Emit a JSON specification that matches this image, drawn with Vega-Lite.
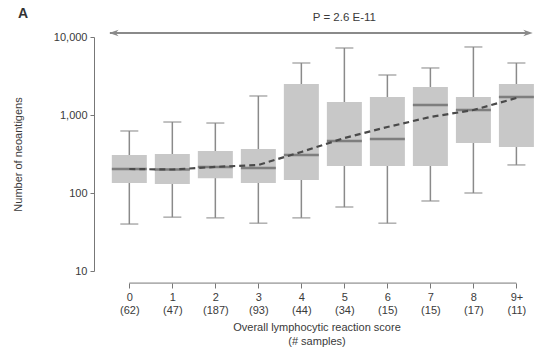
{
  "$schema": "https://vega.github.io/schema/vega-lite/v6.json",
  "width": 445,
  "height": 234,
  "autosize": "none",
  "padding": {"left": 94, "top": 37, "right": 0, "bottom": 91},
  "config": {
    "font": "Liberation Sans",
    "view": {"stroke": null},
    "axis": {"labelFont": "Liberation Sans", "titleFont": "Liberation Sans", "labelFontSize": 11, "titleFontSize": 11, "labelColor": "#3a3a3a", "titleColor": "#3a3a3a", "titleFontWeight": "normal", "grid": false, "domainColor": "#777", "tickColor": "#777"}
  },
  "datasets": {
    "boxes": [
      {"score": 0, "low": 40, "q1": 134, "median": 203, "q3": 307, "high": 624, "trend": 203},
      {"score": 1, "low": 49, "q1": 130, "median": 200, "q3": 316, "high": 813, "trend": 200},
      {"score": 2, "low": 48, "q1": 155, "median": 215, "q3": 345, "high": 789, "trend": 216},
      {"score": 3, "low": 41, "q1": 134, "median": 209, "q3": 367, "high": 1753, "trend": 229},
      {"score": 4, "low": 48, "q1": 147, "median": 307, "q3": 2497, "high": 4642, "trend": 336},
      {"score": 5, "low": 66, "q1": 222, "median": 464, "q3": 1468, "high": 7228, "trend": 507},
      {"score": 6, "low": 41, "q1": 222, "median": 492, "q3": 1700, "high": 3257, "trend": 702},
      {"score": 7, "low": 79, "q1": 222, "median": 1343, "q3": 2285, "high": 4009, "trend": 942},
      {"score": 8, "low": 100, "q1": 437, "median": 1159, "q3": 1700, "high": 7450, "trend": 1159},
      {"score": 9, "low": 229, "q1": 389, "median": 1700, "q3": 2497, "high": 4642, "trend": 1652}
    ],
    "annot": [{"label": "P = 2.6 E-11", "panel": "A"}]
  },
  "layer": [
    {
      "data": {"name": "annot"},
      "mark": {"type": "text", "fontSize": 14, "fontWeight": "bold", "color": "#333", "dx": -76, "dy": -19},
      "encoding": {
        "x": {"datum": -0.705, "type": "quantitative"},
        "y": {"datum": 11250, "type": "quantitative"},
        "text": {"field": "panel"}
      }
    },
    {
      "data": {"name": "annot"},
      "mark": {"type": "rule", "color": "#8a8a8a", "strokeWidth": 2},
      "encoding": {
        "x": {"datum": -0.45, "type": "quantitative"},
        "x2": {"datum": 9.3},
        "y": {"datum": 11250, "type": "quantitative"}
      }
    },
    {
      "data": {"name": "annot"},
      "mark": {"type": "point", "shape": "M -1 0 L 1 -0.7 L 0.4 0 L 1 0.7 Z", "filled": true, "color": "#8a8a8a", "size": 90, "opacity": 1},
      "encoding": {
        "x": {"datum": -0.36, "type": "quantitative"},
        "y": {"datum": 11250, "type": "quantitative"}
      }
    },
    {
      "data": {"name": "annot"},
      "mark": {"type": "point", "shape": "M 1 0 L -1 -0.7 L -0.4 0 L -1 0.7 Z", "filled": true, "color": "#8a8a8a", "size": 90, "opacity": 1},
      "encoding": {
        "x": {"datum": 9.27, "type": "quantitative"},
        "y": {"datum": 11250, "type": "quantitative"}
      }
    },
    {
      "data": {"name": "annot"},
      "mark": {"type": "text", "fontSize": 11.5, "color": "#3a3a3a", "dy": -15},
      "encoding": {
        "x": {"datum": 5, "type": "quantitative"},
        "y": {"datum": 11250, "type": "quantitative"},
        "text": {"field": "label"}
      }
    },
    {
      "data": {"name": "annot"},
      "mark": {"type": "rule", "color": "#777", "strokeWidth": 1},
      "encoding": {
        "x": {"datum": 0, "type": "quantitative"},
        "x2": {"datum": 9},
        "y": {"datum": 7.0, "type": "quantitative"}
      }
    },
    {
      "data": {"name": "boxes"},
      "mark": {"type": "rule", "color": "#8a8a8a", "strokeWidth": 1.5},
      "encoding": {
        "x": {"field": "score", "type": "quantitative"},
        "y": {"field": "low", "type": "quantitative"},
        "y2": {"field": "high"}
      }
    },
    {
      "data": {"name": "boxes"},
      "mark": {"type": "tick", "orient": "horizontal", "size": 18, "thickness": 1.5, "color": "#8a8a8a"},
      "encoding": {
        "x": {"field": "score", "type": "quantitative"},
        "y": {"field": "low", "type": "quantitative"}
      }
    },
    {
      "data": {"name": "boxes"},
      "mark": {"type": "tick", "orient": "horizontal", "size": 18, "thickness": 1.5, "color": "#8a8a8a"},
      "encoding": {
        "x": {"field": "score", "type": "quantitative"},
        "y": {"field": "high", "type": "quantitative"}
      }
    },
    {
      "data": {"name": "boxes"},
      "mark": {"type": "bar", "size": 35, "color": "#c8c8c8", "orient": "vertical"},
      "encoding": {
        "x": {
          "field": "score", "type": "quantitative",
          "scale": {"domain": [-0.705, 9.409], "nice": false, "zero": false},
          "axis": {
            "values": [0, 1, 2, 3, 4, 5, 6, 7, 8, 9],
            "labelExpr": "[['0','(62)'],['1','(47)'],['2','(187)'],['3','(93)'],['4','(44)'],['5','(34)'],['6','(15)'],['7','(15)'],['8','(17)'],['9+','(11)']][datum.value]",
            "domain": false,
            "offset": 12,
            "tickSize": 5,
            "labelPadding": 3,
            "labelLineHeight": 13,
            "labelOverlap": false,
            "labelFlush": false,
            "labelBound": false,
            "title": ["Overall lymphocytic reaction score", "(# samples)"],
            "titleLineHeight": 14,
            "titlePadding": 6
          }
        },
        "y": {
          "field": "q1", "type": "quantitative",
          "scale": {"type": "log", "domain": [10, 10000], "nice": false},
          "axis": {
            "values": [10, 100, 1000, 10000],
            "format": ",d",
            "tickSize": 4,
            "labelPadding": 3,
            "title": "Number of neoantigens",
            "titlePadding": 30
          }
        },
        "y2": {"field": "q3"}
      }
    },
    {
      "data": {"name": "boxes"},
      "mark": {"type": "tick", "orient": "horizontal", "size": 35, "thickness": 2.5, "color": "#5e5e5e"},
      "encoding": {
        "x": {"field": "score", "type": "quantitative"},
        "y": {"field": "median", "type": "quantitative"}
      }
    },
    {
      "data": {"name": "boxes"},
      "mark": {"type": "line", "color": "#4a4a4a", "strokeWidth": 2.2, "strokeDash": [6, 4]},
      "encoding": {
        "x": {"field": "score", "type": "quantitative"},
        "y": {"field": "trend", "type": "quantitative"}
      }
    }
  ]
}
